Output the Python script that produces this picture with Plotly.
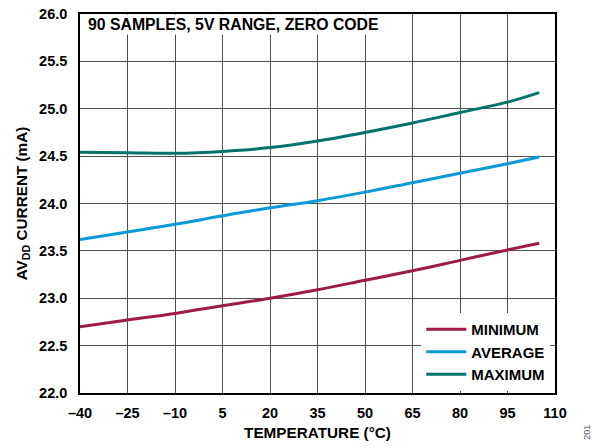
import plotly.graph_objects as go

temps = [-40, -25, -10, 5, 20, 35, 50, 65, 80, 95, 105]
minimum = [22.70, 22.77, 22.84, 22.92, 23.00, 23.09, 23.19, 23.29, 23.40, 23.51, 23.58]
average = [23.62, 23.70, 23.78, 23.87, 23.955, 24.03, 24.12, 24.22, 24.32, 24.42, 24.49]
maximum = [24.54, 24.535, 24.53, 24.55, 24.59, 24.66, 24.75, 24.85, 24.96, 25.07, 25.17]

x_ticks = [-40, -25, -10, 5, 20, 35, 50, 65, 80, 95, 110]
x_labels = ["–40", "–25", "–10", "5", "20", "35", "50", "65", "80", "95", "110"]
y_ticks = [22.0, 22.5, 23.0, 23.5, 24.0, 24.5, 25.0, 25.5, 26.0]

FONT = "Liberation Sans, Arial, sans-serif"

fig = go.Figure()
for name, vals, col in [("<b>MINIMUM</b>", minimum, "#9E1B48"),
                        ("<b>AVERAGE</b>", average, "#0A9AD7"),
                        ("<b>MAXIMUM</b>", maximum, "#00736B")]:
    fig.add_trace(go.Scatter(x=temps, y=vals, mode="lines", name=name,
                             line=dict(color=col, width=3, shape="spline")))

fig.update_layout(
    width=596, height=448,
    margin=dict(l=80, r=41, t=14, b=55),
    paper_bgcolor="white", plot_bgcolor="white",
    font=dict(family=FONT, size=14, color="black"),
    showlegend=True,
    legend=dict(x=0.99, y=0.005, xanchor="right", yanchor="bottom",
                bgcolor="white", borderwidth=0,
                font=dict(family=FONT, size=15, color="black"),
                itemwidth=40, tracegroupgap=0),
    xaxis=dict(range=[-40, 110], tickvals=x_ticks, ticktext=x_labels,
               showgrid=True, gridcolor="#505050", gridwidth=1.2,
               showline=True, linecolor="black", linewidth=1.5, mirror=True,
               ticks="", zeroline=False, ticklabelstandoff=6, automargin=False,
               tickfont=dict(family=FONT, size=14.5, color="black", weight="bold"),
               title=dict(text="<b>TEMPERATURE (°C)</b>", standoff=7,
                          font=dict(family=FONT, size=15.3, color="black"))),
    yaxis=dict(range=[22, 26], tickvals=y_ticks, tickformat=".1f",
               showgrid=True, gridcolor="#505050", gridwidth=1.2,
               showline=True, linecolor="black", linewidth=1.5, mirror=True,
               ticks="", zeroline=False, ticklabelstandoff=8, automargin=False,
               tickfont=dict(family=FONT, size=14.5, color="black", weight="bold"),
               title=dict(text="<b>AV<sub>DD</sub> CURRENT (mA)</b>", standoff=8,
                          font=dict(family=FONT, size=15.3, color="black"))),
)

fig.add_annotation(text="<b>90 SAMPLES, 5V RANGE, ZERO CODE</b>",
                   xref="paper", yref="paper", x=0.012, y=1.0,
                   xanchor="left", yanchor="top", showarrow=False,
                   bgcolor="white",
                   font=dict(family=FONT, size=15.8, color="black"))
fig.add_annotation(text="201", xref="paper", yref="paper", x=1.067, y=-0.103,
                   xanchor="center", yanchor="middle", showarrow=False,
                   textangle=-90, font=dict(family=FONT, size=9, color="#555555"))

fig.write_html("out.html", config={"displayModeBar": False},
               post_script="document.body.style.margin='0';")
